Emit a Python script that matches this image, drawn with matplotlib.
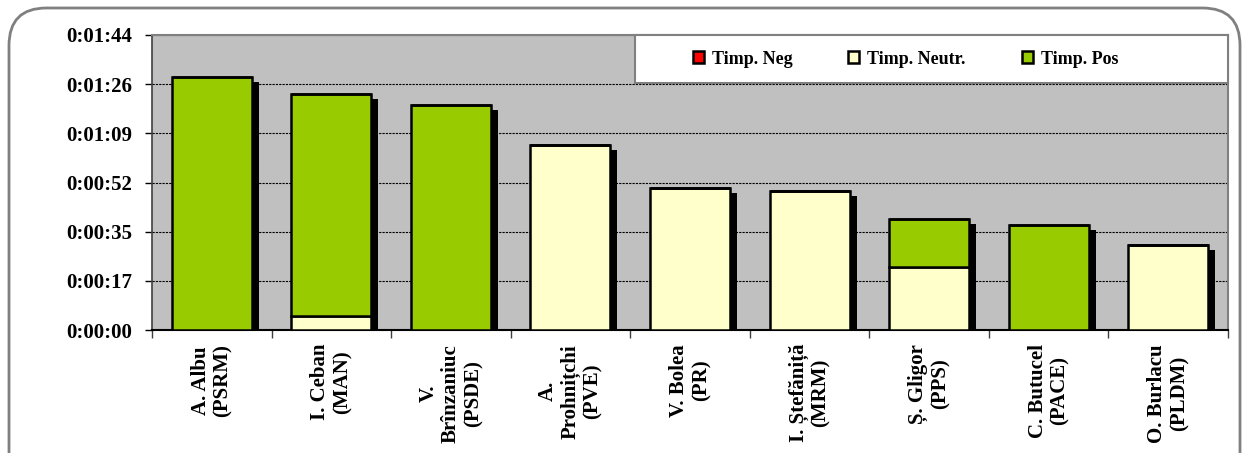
import matplotlib
matplotlib.use("Agg")
import matplotlib.pyplot as plt
import matplotlib.transforms as mtransforms
from matplotlib.patches import Rectangle, FancyBboxPatch, Patch
from matplotlib.ticker import FixedLocator, FuncFormatter
import numpy as np

plt.rcParams['font.family'] = ['Liberation Serif', 'DejaVu Serif']
plt.rcParams['font.weight'] = 'bold'

categories = ["A. Albu\n(PSRM)", "I. Ceban\n(MAN)", "V.\nBrînzaniuc\n(PSDE)",
              "A.\nProhnițchi\n(PVE)", "V. Bolea\n(PR)", "I. Ștefăniță\n(MRM)",
              "Ș. Gligor\n(PPS)", "C. Butucel\n(PACE)", "O. Burlacu\n(PLDM)"]
# seconds
neg = [0, 0, 0, 0, 0, 0, 0, 0, 0]
neutr = [0, 5, 0, 65, 50, 49, 22, 0, 30]
pos = [89, 78, 79, 0, 0, 0, 17, 37, 0]
series_names = ["Timp. Neg", "Timp. Neutr.", "Timp. Pos"]
y_ticks_sec = [0, 17.28, 34.56, 51.84, 69.12, 86.4, 103.68]

c_neg = "#FF0000"
c_neu = "#FFFFCC"
c_pos = "#99CC00"

W, H = 1248, 453
fig = plt.figure(figsize=(W / 100, H / 100), dpi=100)
fig.patch.set_facecolor("white")

# outer rounded frame
frame = FancyBboxPatch((9 / W, -40 / H), (1231 / W), (445 / H + 40 / H),
                       boxstyle="round,pad=0,rounding_size=0.03",
                       transform=fig.transFigure, facecolor="white",
                       edgecolor="#808080", linewidth=2, zorder=-5,
                       mutation_aspect=W / H)
fig.add_artist(frame)

ax = fig.add_axes([152 / W, 1 - 330 / H, (1228 - 152) / W, (330 - 35) / H])
ax.set_zorder(2)
ax.set_facecolor("#C0C0C0")

x = np.arange(len(categories))
width = 0.67
neg_a = np.array(neg, float)
neu_a = np.array(neutr, float)
pos_a = np.array(pos, float)
total = neg_a + neu_a + pos_a

shadow_tr = ax.transData + mtransforms.ScaledTranslation(7 / 100, -5 / 100, fig.dpi_scale_trans)
ax.bar(x, total, width=width, color="black", edgecolor="none", transform=shadow_tr, zorder=2)

ax.bar(x, neu_a, width=width, color=c_neu, edgecolor="black", linewidth=1.8, zorder=3)
ax.bar(x, pos_a, width=width, bottom=neu_a, color=c_pos, edgecolor="black", linewidth=1.8, zorder=3)
ax.bar(x, neg_a, width=width, bottom=neu_a + pos_a, color=c_neg, edgecolor="black", linewidth=1.8, zorder=3)

ax.set_xlim(-0.5, len(categories) - 0.5)
ax.set_ylim(0, y_ticks_sec[-1])


def fmt(v, pos_):
    s = int(round(v))
    return f"{s // 3600}:{(s % 3600) // 60:02d}:{s % 60:02d}"


ax.yaxis.set_major_locator(FixedLocator(y_ticks_sec))
ax.yaxis.set_major_formatter(FuncFormatter(fmt))
ax.tick_params(axis="y", direction="out", length=5, width=1, pad=9, labelsize=15, color="black")
for lab in ax.get_yticklabels():
    lab.set_fontweight("bold")

ax.yaxis.grid(True, color="black", linestyle=(0, (2, 1)), linewidth=0.8, zorder=1)
ax.set_axisbelow(True)

# category boundary ticks, labels at centers
ax.xaxis.set_major_locator(FixedLocator(np.arange(-0.5, len(categories), 1.0)))
ax.xaxis.set_major_formatter(FuncFormatter(lambda v, p: ""))
ax.xaxis.set_minor_locator(FixedLocator(x))
ax.set_xticklabels(categories, minor=True, rotation=90, fontsize=15, fontweight="bold",
                   ha="center", va="top", multialignment="center", linespacing=1.15)
ax.tick_params(axis="x", which="major", direction="out", length=6, width=1, color="#404040")
ax.tick_params(axis="x", which="minor", length=0, pad=10)

for side in ["top", "right"]:
    ax.spines[side].set_color("#808080")
    ax.spines[side].set_linewidth(1.5)
ax.spines["left"].set_color("#404040")
ax.spines["left"].set_linewidth(1.2)
ax.spines["bottom"].set_color("black")
ax.spines["bottom"].set_linewidth(1.5)

# legend box
lx0 = (635 - 152) / 1076
ly0 = (330 - 83) / 295
box = Rectangle((lx0, ly0), 1 - lx0, 1 - ly0, transform=ax.transAxes, facecolor="white",
                edgecolor="#808080", linewidth=1.5, zorder=5, clip_on=False)
ax.add_patch(box)
handles = [Patch(facecolor=c, edgecolor="black", linewidth=1.8) for c in (c_neg, c_neu, c_pos)]
leg = ax.legend(handles, series_names, loc="center", ncol=3, frameon=False,
                bbox_to_anchor=(lx0 + (1 - lx0) / 2 - 26 / 1076, ly0 + (1 - ly0) / 2),
                bbox_transform=ax.transAxes,
                prop={"family": "Liberation Serif", "weight": "bold", "size": 13},
                handlelength=0.6, handleheight=0.6, handletextpad=0.45, columnspacing=3.1)
leg.set_zorder(6)

fig.savefig("out.png", dpi=100, facecolor="white")
